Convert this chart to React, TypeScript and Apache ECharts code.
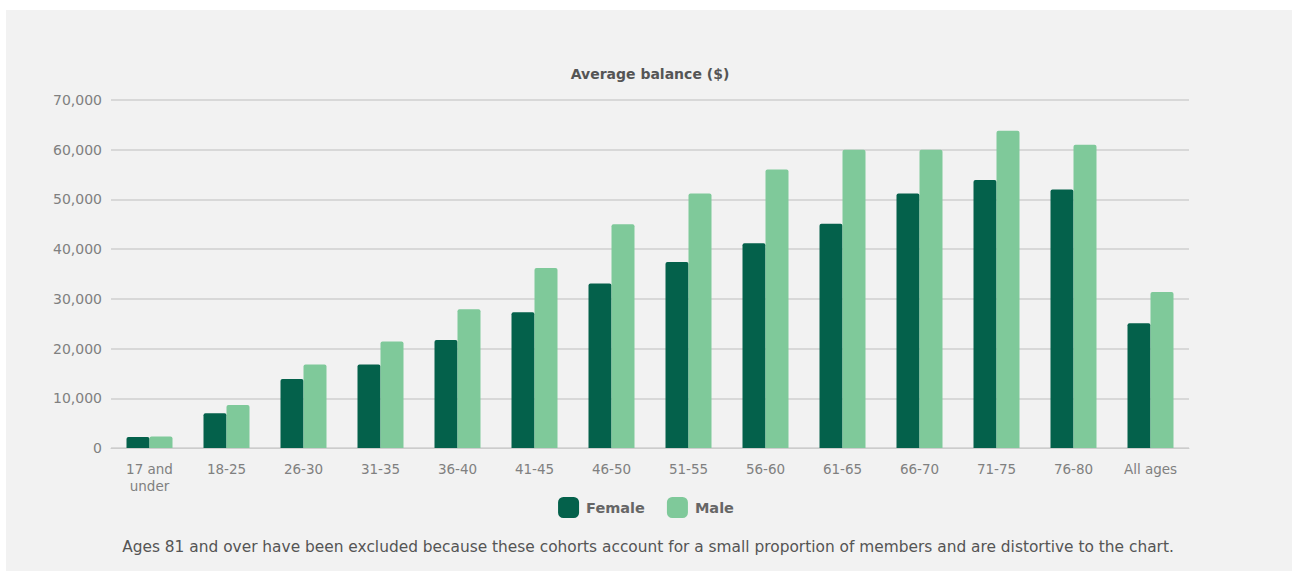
import React, { useEffect, useRef } from "react";
import * as echarts from "echarts";

const categories = ["17 and\nunder", "18-25", "26-30", "31-35", "36-40", "41-45", "46-50", "51-55", "56-60", "61-65", "66-70", "71-75", "76-80", "All ages"];
const female = [2200, 7000, 13900, 16800, 21700, 27300, 33100, 37400, 41200, 45100, 51200, 53900, 52000, 25100];
const male = [2300, 8650, 16800, 21400, 27900, 36200, 45000, 51200, 56000, 60000, 60000, 63800, 61000, 31400];
const yTicks = [0, 10000, 20000, 30000, 40000, 50000, 60000, 70000];

const FONT = "DejaVu Sans";

export default function App() {
  const ref = useRef<HTMLDivElement>(null);
  useEffect(() => {
    if (!ref.current) return;
    const chart = echarts.init(ref.current, undefined, { renderer: "svg" });
    chart.setOption({
      animation: false,
      backgroundColor: "#ffffff",
      textStyle: { fontFamily: FONT },
      graphic: [
        { type: "rect", z: -10, shape: { x: 6, y: 10, width: 1292, height: 571 }, style: { fill: "#f2f2f2" } },
        {
          type: "text", x: 650, y: 74,
          style: { text: "Average balance ($)", fontFamily: FONT, fontSize: 14, fontWeight: "bold", fill: "#555", align: "center", verticalAlign: "middle" },
        },
        {
          type: "text", x: 648, y: 547,
          style: {
            text: "Ages 81 and over have been excluded because these cohorts account for a small proportion of members and are distortive to the chart.",
            fontFamily: FONT, fontSize: 15.4, fill: "#555", align: "center", verticalAlign: "middle",
          },
        },
      ],
      legend: {
        data: ["Female", "Male"],
        top: 492,
        left: "center",
        itemWidth: 21,
        itemHeight: 21,
        itemGap: 22,
        icon: "roundRect",
        textStyle: { fontFamily: FONT, fontSize: 14.5, fontWeight: "bold", color: "#666", padding: [0, 0, 0, 2] },
      },
      grid: { left: 111, right: 103, top: 100, bottom: 123 },
      xAxis: {
        type: "category",
        data: categories,
        axisTick: { show: false },
        axisLine: { lineStyle: { color: "#cccccc" } },
        axisLabel: { color: "#808080", fontSize: 13.5, fontFamily: FONT, margin: 12, lineHeight: 17, interval: 0 },
      },
      yAxis: {
        type: "value",
        min: yTicks[0],
        max: yTicks[yTicks.length - 1],
        interval: 10000,
        axisLabel: {
          color: "#808080", fontSize: 14, fontFamily: FONT, margin: 9,
          formatter: (v: number) => v.toLocaleString("en-US"),
        },
        splitLine: { lineStyle: { color: "#cfcfcf", width: 1.5 } },
      },
      series: [
        {
          name: "Female", type: "bar", data: female, barWidth: 23, barGap: "0%",
          itemStyle: { color: "#04614b", borderRadius: [2, 2, 0, 0] },
        },
        {
          name: "Male", type: "bar", data: male, barWidth: 23,
          itemStyle: { color: "#7fc99a", borderRadius: [2, 2, 0, 0] },
        },
      ],
    });
    return () => chart.dispose();
  }, []);
  return <div ref={ref} style={{ position: "fixed", left: 0, top: 0, width: 1292, height: 571 }} />;
}
